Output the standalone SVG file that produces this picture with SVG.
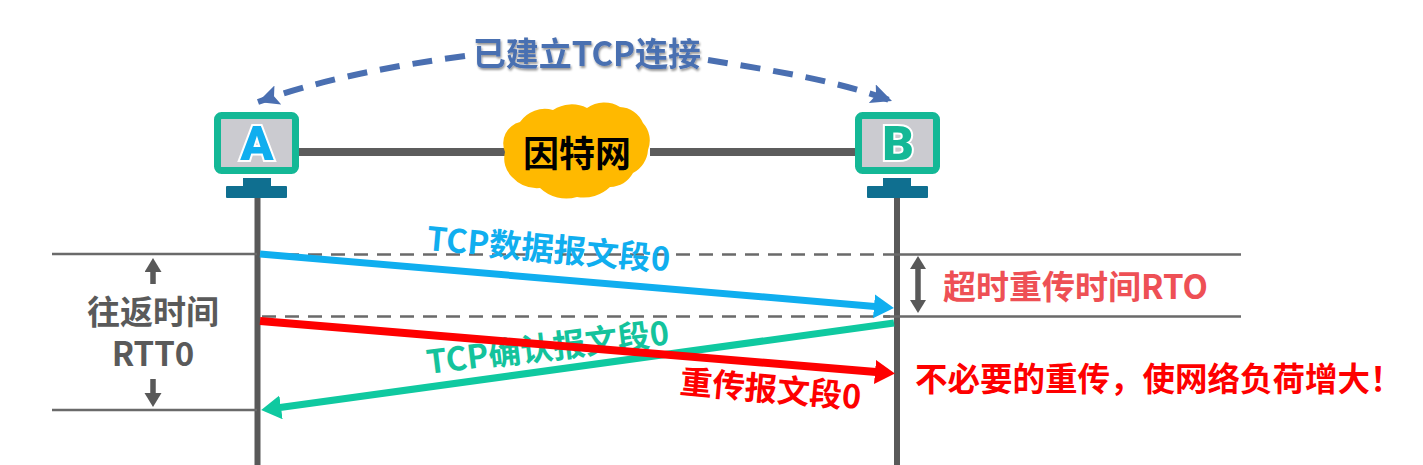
<svg xmlns="http://www.w3.org/2000/svg" width="1423" height="465" viewBox="0 0 1423 465">
<style>
text{font-family:"Noto Sans CJK SC","Liberation Sans",sans-serif;font-weight:700;}
.life{stroke:#595959;stroke-width:6;fill:none}
.thin{stroke:#6a6a6a;stroke-width:2.500;fill:none}
.dash{stroke:#6a6a6a;stroke-width:2.500;fill:none;stroke-dasharray:14 9}
.link{stroke:#5c5c5c;stroke-width:8;fill:none}
.curve{stroke:#4a6fb1;stroke-width:6;fill:none;stroke-dasharray:20 13;marker-end:url(#mCurve)}
.screen{fill:#cbcbd0;stroke:#14b896;stroke-width:7}
.stand{fill:#0f6f90}
.letter{font-family:Roboto,"Liberation Sans",sans-serif;font-size:49px;font-weight:900;stroke:#fff;stroke-width:4;paint-order:stroke;text-anchor:middle}
.gray{fill:#5a5a5a;font-size:33px;text-anchor:middle}
.small{stroke:#595959;stroke-width:5.500;fill:none}
</style>
<defs>
<marker id="mCurve" markerUnits="userSpaceOnUse" markerWidth="26" markerHeight="22" refX="21" refY="10" orient="auto"><path d="M0,0L21,10L0,20L4,10Z" fill="#4a6fb1"/></marker>
<marker id="mBlue" markerUnits="userSpaceOnUse" markerWidth="22" markerHeight="26" refX="1" refY="12" orient="auto"><path d="M0,0L20,12L0,24Z" fill="#10aeef"/></marker>
<marker id="mGreen" markerUnits="userSpaceOnUse" markerWidth="24" markerHeight="26" refX="1" refY="12" orient="auto"><path d="M0,0L20,12L0,24Z" fill="#0fc9a0"/></marker>
<marker id="mRed" markerUnits="userSpaceOnUse" markerWidth="22" markerHeight="26" refX="1" refY="12" orient="auto"><path d="M0,0L20,12L0,24Z" fill="#fe0000"/></marker>
<marker id="mGray" markerUnits="userSpaceOnUse" markerWidth="18" markerHeight="18" refX="1" refY="8.500" orient="auto"><path d="M0,0L14,8.500L0,17Z" fill="#595959"/></marker>
<marker id="mGrayS" markerUnits="userSpaceOnUse" markerWidth="18" markerHeight="18" refX="1" refY="8" orient="auto-start-reverse"><path d="M0,0L13,8L0,16Z" fill="#595959"/></marker>
<filter id="halo" x="-10%" y="-30%" width="120%" height="160%"><feDropShadow dx="1" dy="2" stdDeviation="1.200" flood-color="#000" flood-opacity=".4"/></filter>
</defs>
<rect width="1423" height="465" fill="#fff"/>
<g id="connectors">
<path class="link" d="M299,152H505M650,152H855"/>
<path class="life" d="M257.500,198V465M897,198V465"/>
<path class="thin" d="M52,254H257M897,254.500H1241M52,410H257M884,316.500H1241"/>
<path class="dash" d="M262,254.500H897M262,316.500H890"/>
<path class="curve" d="M465,56C390,66 320,80 258,102"/>
<path class="curve" d="M708,60C770,70 835,80 892,101"/>
<path class="small" d="M153,284V271" marker-end="url(#mGray)"/>
<path class="small" d="M153,379V394" marker-end="url(#mGray)"/>
<path class="small" d="M918,268V301" marker-start="url(#mGrayS)" marker-end="url(#mGrayS)"/>
<path d="M260,254L875,306.500" stroke="#10aeef" stroke-width="7" fill="none" marker-end="url(#mBlue)"/>
<path d="M894,323L280,407.500" stroke="#0fc9a0" stroke-width="7" fill="none" marker-end="url(#mGreen)"/>
</g>
<g id="label-ack"><text x="0" y="0" font-size="32.500" fill="#14c39c" transform="translate(428,374) rotate(-7)">TCP确认报文段0</text></g>
<g id="connector-red"><path d="M260,321L876,372" stroke="#fe0000" stroke-width="8" fill="none" marker-end="url(#mRed)"/></g>
<g id="node-A">
<rect class="screen" x="217.500" y="115.500" width="78" height="55" rx="4"/>
<rect class="stand" x="243" y="178" width="28" height="9"/>
<rect class="stand" x="226" y="186" width="61" height="12" rx="1"/>
<text class="letter" x="257" y="160" fill="#10aeef">A</text>
</g>
<g id="node-B">
<rect class="screen" x="858.500" y="115.500" width="78" height="55" rx="4"/>
<rect class="stand" x="883" y="178" width="28" height="9"/>
<rect class="stand" x="867" y="186" width="61" height="12" rx="1"/>
<text class="letter" x="898" y="160" fill="#14b896">B</text>
</g>
<g id="node-internet">
<path d="M505,152A22,22 0 0 1 520,122A30,30 0 0 1 553,110A34,34 0 0 1 587,108A30,30 0 0 1 620,107A26,26 0 0 1 643,123A26,26 0 0 1 648,150A28,28 0 0 1 633,173A28,28 0 0 1 610,187A38,38 0 0 1 577,197A38,38 0 0 1 540,188A34,34 0 0 1 512,177A26,26 0 0 1 505,152Z" fill="#ffb900"/>
<text x="577" y="167" font-size="36" fill="#000" text-anchor="middle">因特网</text>
</g>
<g id="label-established"><text x="587" y="66" font-size="33" fill="#4a6fb1" text-anchor="middle" filter="url(#halo)">已建立TCP连接</text></g>
<g id="label-rtt"><text class="gray"><tspan x="153" y="324">往返时间</tspan><tspan x="153" y="366">RTT0</tspan></text></g>
<g id="label-data"><text x="0" y="0" font-size="32.500" fill="#10aeef" transform="translate(426,250) rotate(5)">TCP数据报文段0</text></g>
<g id="label-retx"><text x="0" y="0" font-size="32.500" fill="#fe0000" transform="translate(679,393) rotate(5)">重传报文段0</text></g>
<g id="label-rto"><text x="943" y="299" font-size="33" fill="#ee5055">超时重传时间RTO</text></g>
<g id="label-note"><text x="915" y="391" font-size="32.500" fill="#fe0000">不必要的重传，使网络负荷增大！</text></g>
</svg>
